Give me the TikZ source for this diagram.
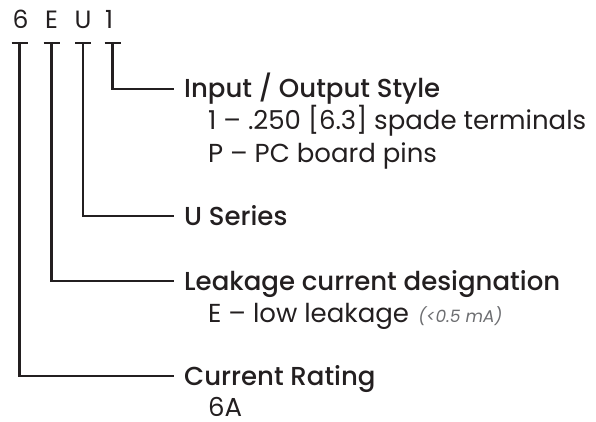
\documentclass[tikz,border=0pt]{standalone}
\usepackage{fontspec}
\IfFontExistsTF{Poppins Medium}
  {\setmainfont{Poppins}[BoldFont={Poppins Medium}, ItalicFont={Poppins Italic}]}
  {\setmainfont{Poppins}}
\usepackage{tikz}
\usetikzlibrary{positioning,calc}
\definecolor{ink}{HTML}{231F20}
\definecolor{note}{HTML}{6D6E71}

\begin{document}
\begin{tikzpicture}[
      x=1pt, y=-1pt,
      every node/.style={inner sep=0pt, text=ink},
      code/.style={anchor=base, font=\fontsize{25}{25}\selectfont},
      head/.style={anchor=base west, font=\fontsize{26}{26}\selectfont\bfseries},
      sub/.style={anchor=base west, font=\fontsize{26}{26}\selectfont},
      leg/.style={draw=ink, line width=2.5pt},
      bar/.style={draw=ink, line width=2.5pt}
  ]
      \useasboundingbox (0,0) rectangle (596,422);

      % Code letters
      \node[code] (c6) at (20.5,29)  {6};
      \node[code] (cE) at (51.5,29)  {E};
      \node[code] (cU) at (83,29)    {U};
      \node[code] (c1) at (109,29)   {1};

      % Stems under the letters
      \coordinate (t6) at (19.5,43);
      \coordinate (tE) at (51.5,43);
      \coordinate (tU) at (83,43);
      \coordinate (t1) at (112.5,43);

      % Headings
      \node[head] (io)   at (184,98)  {Input / Output Style};
      \node[head] (ser)  at (184,225) {U Series};
      \node[head] (leak) at (184,290) {Leakage current designation};
      \node[head] (rate) at (184,385) {Current Rating};

      % Details
      \node[sub] (io1)   at (208,130) {1 -- .250 [6.3] spade terminals};
      \node[sub] (io2)   at (208,162) {P -- PC board pins};
      \node[sub] (leak1) at (208,322) {E -- low leakage};
      \node[anchor=base west, font=\fontsize{17}{17}\selectfont\itshape, text=note]
            (leak2) at ([xshift=9pt]leak1.base east) {(<0.5 mA)};
      \node[sub] (rate1) at (208,416) {6A};

      % T bars
      \foreach \t in {t6,tE,tU,t1}
        \draw[bar] ([xshift=-8pt]\t) -- ([xshift=8pt]\t);

      % Leaders
      \draw[leg] (t1) |- ([xshift=-10pt, yshift=9pt]io.base west);
      \draw[leg] (tU) |- ([xshift=-10pt, yshift=9pt]ser.base west);
      \draw[leg] (tE) |- ([xshift=-10pt, yshift=9pt]leak.base west);
      \draw[leg] (t6) |- ([xshift=-10pt, yshift=9pt]rate.base west);
  \end{tikzpicture}
\end{document}
